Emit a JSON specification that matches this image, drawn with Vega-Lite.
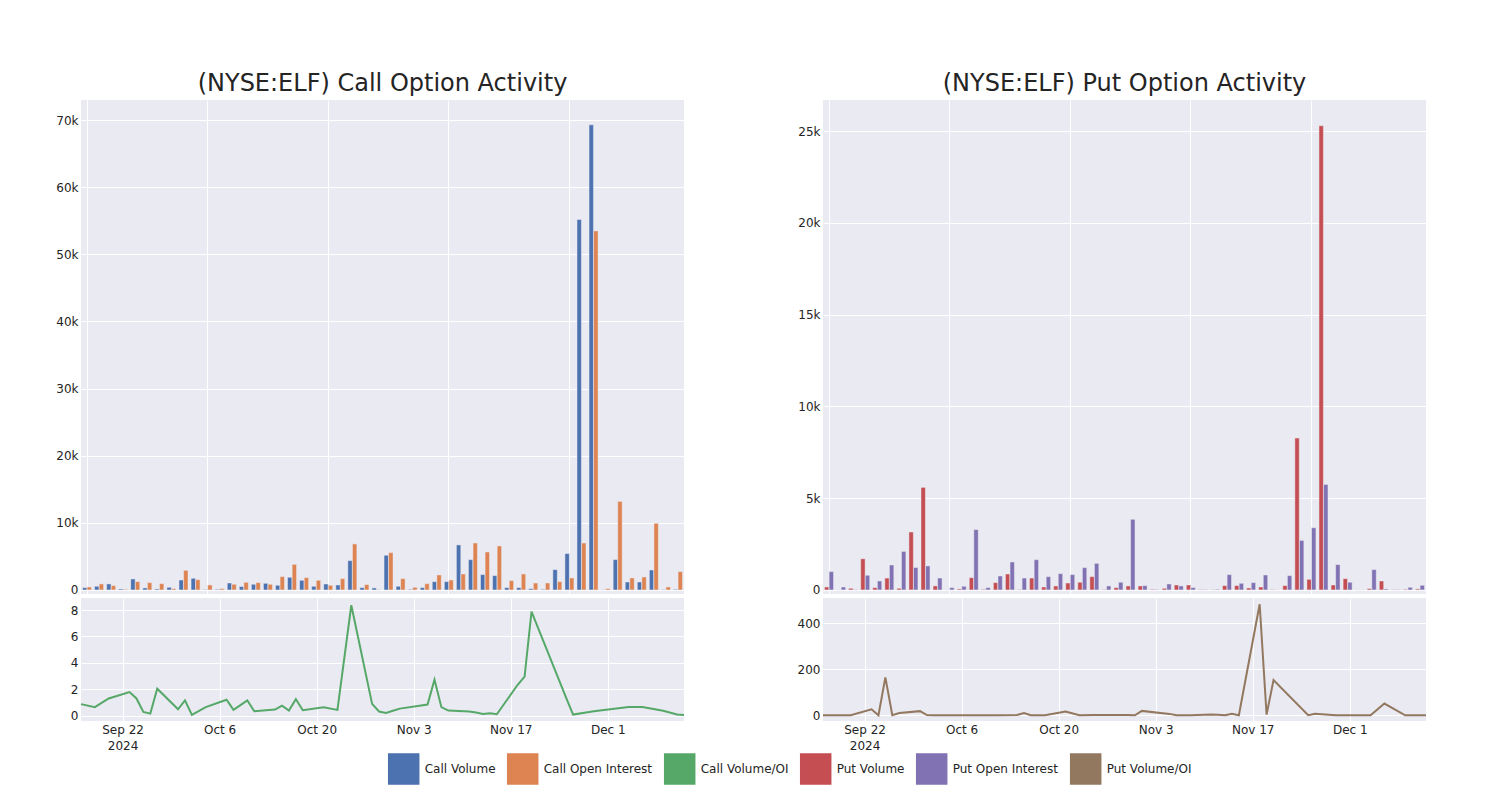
{
  "$schema": "https://vega.github.io/schema/vega-lite/v6.json",
  "background": "white",
  "padding": {"left": 55, "top": 72, "right": 10, "bottom": 10},
  "config": {
    "font": "DejaVu Sans",
    "view": {"fill": "#eaeaf2", "stroke": null},
    "axis": {"domain": false, "ticks": false, "grid": true, "gridColor": "#ffffff", "gridWidth": 1, "labelFont": "DejaVu Sans", "labelFontSize": 12, "labelColor": "#242424", "labelPadding": 3},
    "title": {"font": "DejaVu Sans", "fontSize": 24, "fontWeight": "normal", "color": "#242424", "anchor": "middle"}
  },
  "datasets": {
    "callBars": [
      {"date": "2024-09-16", "Call Volume": 343, "Call Open Interest": 447},
      {"date": "2024-09-18", "Call Volume": 550, "Call Open Interest": 900},
      {"date": "2024-09-20", "Call Volume": 900, "Call Open Interest": 650},
      {"date": "2024-09-23", "Call Volume": 150, "Call Open Interest": 100},
      {"date": "2024-09-24", "Call Volume": 1640, "Call Open Interest": 1240},
      {"date": "2024-09-25", "Call Volume": 300, "Call Open Interest": 1090},
      {"date": "2024-09-26", "Call Volume": 150, "Call Open Interest": 940},
      {"date": "2024-09-27", "Call Volume": 400, "Call Open Interest": 200},
      {"date": "2024-09-30", "Call Volume": 1490, "Call Open Interest": 2930},
      {"date": "2024-10-01", "Call Volume": 1740, "Call Open Interest": 1540},
      {"date": "2024-10-02", "Call Volume": 50, "Call Open Interest": 750},
      {"date": "2024-10-04", "Call Volume": 100, "Call Open Interest": 200},
      {"date": "2024-10-07", "Call Volume": 1040, "Call Open Interest": 850},
      {"date": "2024-10-08", "Call Volume": 500, "Call Open Interest": 1140},
      {"date": "2024-10-09", "Call Volume": 850, "Call Open Interest": 1090},
      {"date": "2024-10-10", "Call Volume": 990, "Call Open Interest": 850},
      {"date": "2024-10-11", "Call Volume": 700, "Call Open Interest": 1990},
      {"date": "2024-10-14", "Call Volume": 1890, "Call Open Interest": 3820},
      {"date": "2024-10-15", "Call Volume": 1440, "Call Open Interest": 1840},
      {"date": "2024-10-16", "Call Volume": 550, "Call Open Interest": 1440},
      {"date": "2024-10-17", "Call Volume": 890, "Call Open Interest": 700},
      {"date": "2024-10-18", "Call Volume": 750, "Call Open Interest": 1690},
      {"date": "2024-10-21", "Call Volume": 4370, "Call Open Interest": 6860},
      {"date": "2024-10-23", "Call Volume": 350, "Call Open Interest": 800},
      {"date": "2024-10-25", "Call Volume": 300, "Call Open Interest": 40},
      {"date": "2024-10-28", "Call Volume": 5170, "Call Open Interest": 5560},
      {"date": "2024-10-29", "Call Volume": 550, "Call Open Interest": 1690},
      {"date": "2024-10-30", "Call Volume": 100, "Call Open Interest": 400},
      {"date": "2024-10-31", "Call Volume": 350, "Call Open Interest": 940},
      {"date": "2024-11-01", "Call Volume": 1240, "Call Open Interest": 2240},
      {"date": "2024-11-05", "Call Volume": 1240, "Call Open Interest": 1490},
      {"date": "2024-11-06", "Call Volume": 6710, "Call Open Interest": 2380},
      {"date": "2024-11-07", "Call Volume": 4520, "Call Open Interest": 7000},
      {"date": "2024-11-08", "Call Volume": 2290, "Call Open Interest": 5660},
      {"date": "2024-11-11", "Call Volume": 2140, "Call Open Interest": 6560},
      {"date": "2024-11-12", "Call Volume": 350, "Call Open Interest": 1390},
      {"date": "2024-11-13", "Call Volume": 350, "Call Open Interest": 2380},
      {"date": "2024-11-14", "Call Volume": 200, "Call Open Interest": 1040},
      {"date": "2024-11-15", "Call Volume": 100, "Call Open Interest": 1040},
      {"date": "2024-11-18", "Call Volume": 3030, "Call Open Interest": 1240},
      {"date": "2024-11-19", "Call Volume": 5420, "Call Open Interest": 1790},
      {"date": "2024-11-20", "Call Volume": 55200, "Call Open Interest": 7000},
      {"date": "2024-11-25", "Call Volume": 69300, "Call Open Interest": 53500},
      {"date": "2024-11-26", "Call Volume": 20, "Call Open Interest": 200},
      {"date": "2024-11-29", "Call Volume": 4520, "Call Open Interest": 13200},
      {"date": "2024-12-04", "Call Volume": 1190, "Call Open Interest": 1790},
      {"date": "2024-12-06", "Call Volume": 1190, "Call Open Interest": 1940},
      {"date": "2024-12-09", "Call Volume": 2980, "Call Open Interest": 9930},
      {"date": "2024-12-11", "Call Volume": 50, "Call Open Interest": 450},
      {"date": "2024-12-12", "Call Volume": 100, "Call Open Interest": 2730}
    ],
    "callRatio": [
      {"date": "2024-09-16", "Call Volume/OI": 0.87},
      {"date": "2024-09-18", "Call Volume/OI": 0.64},
      {"date": "2024-09-20", "Call Volume/OI": 1.30},
      {"date": "2024-09-23", "Call Volume/OI": 1.78},
      {"date": "2024-09-24", "Call Volume/OI": 1.30},
      {"date": "2024-09-25", "Call Volume/OI": 0.28},
      {"date": "2024-09-26", "Call Volume/OI": 0.15},
      {"date": "2024-09-27", "Call Volume/OI": 2.04},
      {"date": "2024-09-30", "Call Volume/OI": 0.48},
      {"date": "2024-10-01", "Call Volume/OI": 1.15},
      {"date": "2024-10-02", "Call Volume/OI": 0.05},
      {"date": "2024-10-04", "Call Volume/OI": 0.64},
      {"date": "2024-10-07", "Call Volume/OI": 1.20},
      {"date": "2024-10-08", "Call Volume/OI": 0.43},
      {"date": "2024-10-09", "Call Volume/OI": 0.79},
      {"date": "2024-10-10", "Call Volume/OI": 1.15},
      {"date": "2024-10-11", "Call Volume/OI": 0.33},
      {"date": "2024-10-14", "Call Volume/OI": 0.46},
      {"date": "2024-10-15", "Call Volume/OI": 0.76},
      {"date": "2024-10-16", "Call Volume/OI": 0.38},
      {"date": "2024-10-17", "Call Volume/OI": 1.25},
      {"date": "2024-10-18", "Call Volume/OI": 0.41},
      {"date": "2024-10-21", "Call Volume/OI": 0.64},
      {"date": "2024-10-23", "Call Volume/OI": 0.43},
      {"date": "2024-10-25", "Call Volume/OI": 8.37},
      {"date": "2024-10-28", "Call Volume/OI": 0.89},
      {"date": "2024-10-29", "Call Volume/OI": 0.31},
      {"date": "2024-10-30", "Call Volume/OI": 0.20},
      {"date": "2024-10-31", "Call Volume/OI": 0.37},
      {"date": "2024-11-01", "Call Volume/OI": 0.53},
      {"date": "2024-11-05", "Call Volume/OI": 0.84},
      {"date": "2024-11-06", "Call Volume/OI": 2.72},
      {"date": "2024-11-07", "Call Volume/OI": 0.64},
      {"date": "2024-11-08", "Call Volume/OI": 0.38},
      {"date": "2024-11-11", "Call Volume/OI": 0.31},
      {"date": "2024-11-12", "Call Volume/OI": 0.23},
      {"date": "2024-11-13", "Call Volume/OI": 0.13},
      {"date": "2024-11-14", "Call Volume/OI": 0.18},
      {"date": "2024-11-15", "Call Volume/OI": 0.10},
      {"date": "2024-11-18", "Call Volume/OI": 2.34},
      {"date": "2024-11-19", "Call Volume/OI": 2.95},
      {"date": "2024-11-20", "Call Volume/OI": 7.89},
      {"date": "2024-11-25", "Call Volume/OI": 1.35},
      {"date": "2024-11-26", "Call Volume/OI": 0.08},
      {"date": "2024-11-29", "Call Volume/OI": 0.33},
      {"date": "2024-12-04", "Call Volume/OI": 0.66},
      {"date": "2024-12-06", "Call Volume/OI": 0.66},
      {"date": "2024-12-09", "Call Volume/OI": 0.36},
      {"date": "2024-12-11", "Call Volume/OI": 0.08},
      {"date": "2024-12-12", "Call Volume/OI": 0.05}
    ],
    "putBars": [
      {"date": "2024-09-16", "Put Volume": 163, "Put Open Interest": 1000},
      {"date": "2024-09-18", "Put Volume": 0, "Put Open Interest": 163},
      {"date": "2024-09-20", "Put Volume": 90, "Put Open Interest": 20},
      {"date": "2024-09-23", "Put Volume": 1700, "Put Open Interest": 800},
      {"date": "2024-09-24", "Put Volume": 127, "Put Open Interest": 490},
      {"date": "2024-09-25", "Put Volume": 650, "Put Open Interest": 1360},
      {"date": "2024-09-26", "Put Volume": 90, "Put Open Interest": 2100},
      {"date": "2024-09-27", "Put Volume": 3160, "Put Open Interest": 1220},
      {"date": "2024-09-30", "Put Volume": 5590, "Put Open Interest": 1310},
      {"date": "2024-10-01", "Put Volume": 220, "Put Open Interest": 650},
      {"date": "2024-10-02", "Put Volume": 0, "Put Open Interest": 127},
      {"date": "2024-10-04", "Put Volume": 55, "Put Open Interest": 200},
      {"date": "2024-10-07", "Put Volume": 670, "Put Open Interest": 3290},
      {"date": "2024-10-08", "Put Volume": 36, "Put Open Interest": 127},
      {"date": "2024-10-09", "Put Volume": 400, "Put Open Interest": 760},
      {"date": "2024-10-10", "Put Volume": 870, "Put Open Interest": 1525},
      {"date": "2024-10-11", "Put Volume": 20, "Put Open Interest": 650},
      {"date": "2024-10-14", "Put Volume": 650, "Put Open Interest": 1650},
      {"date": "2024-10-15", "Put Volume": 163, "Put Open Interest": 725},
      {"date": "2024-10-16", "Put Volume": 218, "Put Open Interest": 890},
      {"date": "2024-10-17", "Put Volume": 380, "Put Open Interest": 835},
      {"date": "2024-10-18", "Put Volume": 420, "Put Open Interest": 1215},
      {"date": "2024-10-21", "Put Volume": 725, "Put Open Interest": 1450},
      {"date": "2024-10-23", "Put Volume": 20, "Put Open Interest": 218},
      {"date": "2024-10-25", "Put Volume": 127, "Put Open Interest": 420},
      {"date": "2024-10-28", "Put Volume": 218, "Put Open Interest": 3850},
      {"date": "2024-10-29", "Put Volume": 218, "Put Open Interest": 236},
      {"date": "2024-10-30", "Put Volume": 36, "Put Open Interest": 20},
      {"date": "2024-10-31", "Put Volume": 90, "Put Open Interest": 327},
      {"date": "2024-11-01", "Put Volume": 272, "Put Open Interest": 218},
      {"date": "2024-11-05", "Put Volume": 272, "Put Open Interest": 127},
      {"date": "2024-11-06", "Put Volume": 20, "Put Open Interest": 20},
      {"date": "2024-11-07", "Put Volume": 10, "Put Open Interest": 36},
      {"date": "2024-11-08", "Put Volume": 236, "Put Open Interest": 835},
      {"date": "2024-11-11", "Put Volume": 236, "Put Open Interest": 363},
      {"date": "2024-11-12", "Put Volume": 109, "Put Open Interest": 400},
      {"date": "2024-11-13", "Put Volume": 163, "Put Open Interest": 817},
      {"date": "2024-11-14", "Put Volume": 20, "Put Open Interest": 0},
      {"date": "2024-11-15", "Put Volume": 236, "Put Open Interest": 780},
      {"date": "2024-11-18", "Put Volume": 8280, "Put Open Interest": 2700},
      {"date": "2024-11-19", "Put Volume": 580, "Put Open Interest": 3390},
      {"date": "2024-11-20", "Put Volume": 25300, "Put Open Interest": 5750},
      {"date": "2024-11-25", "Put Volume": 272, "Put Open Interest": 1380},
      {"date": "2024-11-26", "Put Volume": 617, "Put Open Interest": 420},
      {"date": "2024-11-29", "Put Volume": 0, "Put Open Interest": 0},
      {"date": "2024-12-04", "Put Volume": 73, "Put Open Interest": 1110},
      {"date": "2024-12-06", "Put Volume": 490, "Put Open Interest": 55},
      {"date": "2024-12-09", "Put Volume": 20, "Put Open Interest": 20},
      {"date": "2024-12-11", "Put Volume": 36, "Put Open Interest": 145},
      {"date": "2024-12-12", "Put Volume": 55, "Put Open Interest": 254}
    ],
    "putRatio": [
      {"date": "2024-09-16", "Put Volume/OI": 0},
      {"date": "2024-09-18", "Put Volume/OI": 0},
      {"date": "2024-09-20", "Put Volume/OI": 0},
      {"date": "2024-09-23", "Put Volume/OI": 26},
      {"date": "2024-09-24", "Put Volume/OI": 0},
      {"date": "2024-09-25", "Put Volume/OI": 165},
      {"date": "2024-09-26", "Put Volume/OI": 0},
      {"date": "2024-09-27", "Put Volume/OI": 10},
      {"date": "2024-09-30", "Put Volume/OI": 18},
      {"date": "2024-10-01", "Put Volume/OI": 1},
      {"date": "2024-10-02", "Put Volume/OI": 0},
      {"date": "2024-10-04", "Put Volume/OI": 0},
      {"date": "2024-10-07", "Put Volume/OI": 0},
      {"date": "2024-10-08", "Put Volume/OI": 0},
      {"date": "2024-10-09", "Put Volume/OI": 0},
      {"date": "2024-10-10", "Put Volume/OI": 0},
      {"date": "2024-10-11", "Put Volume/OI": 0},
      {"date": "2024-10-14", "Put Volume/OI": 1},
      {"date": "2024-10-15", "Put Volume/OI": 10},
      {"date": "2024-10-16", "Put Volume/OI": 0},
      {"date": "2024-10-17", "Put Volume/OI": 0},
      {"date": "2024-10-18", "Put Volume/OI": 0},
      {"date": "2024-10-21", "Put Volume/OI": 16},
      {"date": "2024-10-23", "Put Volume/OI": 0},
      {"date": "2024-10-25", "Put Volume/OI": 1},
      {"date": "2024-10-28", "Put Volume/OI": 1},
      {"date": "2024-10-29", "Put Volume/OI": 1},
      {"date": "2024-10-30", "Put Volume/OI": 1},
      {"date": "2024-10-31", "Put Volume/OI": 0},
      {"date": "2024-11-01", "Put Volume/OI": 19},
      {"date": "2024-11-05", "Put Volume/OI": 6},
      {"date": "2024-11-06", "Put Volume/OI": 0},
      {"date": "2024-11-07", "Put Volume/OI": 0},
      {"date": "2024-11-08", "Put Volume/OI": 0},
      {"date": "2024-11-11", "Put Volume/OI": 3},
      {"date": "2024-11-12", "Put Volume/OI": 2},
      {"date": "2024-11-13", "Put Volume/OI": 0},
      {"date": "2024-11-14", "Put Volume/OI": 6},
      {"date": "2024-11-15", "Put Volume/OI": 0},
      {"date": "2024-11-18", "Put Volume/OI": 484},
      {"date": "2024-11-19", "Put Volume/OI": 3},
      {"date": "2024-11-20", "Put Volume/OI": 153},
      {"date": "2024-11-25", "Put Volume/OI": 0},
      {"date": "2024-11-26", "Put Volume/OI": 7},
      {"date": "2024-11-29", "Put Volume/OI": 0},
      {"date": "2024-12-04", "Put Volume/OI": 0},
      {"date": "2024-12-06", "Put Volume/OI": 51},
      {"date": "2024-12-09", "Put Volume/OI": 0},
      {"date": "2024-12-11", "Put Volume/OI": 0},
      {"date": "2024-12-12", "Put Volume/OI": 0}
    ]
  },
  "resolve": {"scale": {"color": "shared"}, "legend": {"color": "shared"}},
  "spacing": 109,
  "hconcat": [
    {
      "spacing": 2,
      "vconcat": [
        {
          "width": 603,
          "height": 494,
          "title": {"text": "(NYSE:ELF) Call Option Activity", "offset": 9, "baseline": "alphabetic", "dy": 24},
          "data": {"name": "callBars"},
          "encoding": {
            "x": {"field": "date", "type": "ordinal", "sort": null, "scale": {"paddingInner": 0.25, "paddingOuter": 0.125},
                  "axis": {"title": null, "labels": false, "bandPosition": 0.5, "values": ["2024-09-16", "2024-10-02", "2024-10-17", "2024-11-05", "2024-11-19"]}}
          },
          "layer": [
            {
              "mark": {"type": "bar", "width": 4.4, "xOffset": -2.3, "stroke": "#eaeaf2", "strokeWidth": 0.5},
              "encoding": {
                "y": {"field": "Call Volume", "type": "quantitative", "scale": {"domain": [-600, 73000], "nice": false, "zero": false},
                      "axis": {"title": null, "values": [0, 10000, 20000, 30000, 40000, 50000, 60000, 70000], "labelExpr": "datum.value == 0 ? '0' : format(datum.value, '~s')"}},
                "y2": {"datum": 0},
                "color": {"datum": "Call Volume", "type": "nominal",
                          "scale": {"domain": ["Call Volume", "Call Open Interest", "Call Volume/OI", "Put Volume", "Put Open Interest", "Put Volume/OI"],
                                    "range": ["#4c72b0", "#dd8452", "#55a868", "#c44e52", "#8172b3", "#937860"]},
                          "legend": {"orient": "none", "legendX": 306.7, "legendY": 653, "direction": "horizontal", "title": null,
                                     "symbolSize": 900, "labelOffset": 5, "columnPadding": 9, "labelFont": "DejaVu Sans", "labelFontSize": 12, "labelColor": "#242424",
                                     "labelExpr": "datum.label == 'Call Volume/OI' ? 'Call Volume/OI\u00a0\u00a0\u00a0\u00a0\u00a0' : datum.label",
                                     "encode": {"symbols": {"update": {
                                       "shape": {"signal": "indexof(datum.value, '/OI') >= 0 ? 'stroke' : 'square'"},
                                       "size": {"signal": "indexof(datum.value, '/OI') >= 0 ? 900 : 100"},
                                       "fill": {"signal": "indexof(datum.value, '/OI') >= 0 ? 'transparent' : (datum.value == 'Call Volume' ? '#4c72b0' : datum.value == 'Call Open Interest' ? '#dd8452' : datum.value == 'Put Volume' ? '#c44e52' : '#8172b3')"},
                                       "stroke": {"signal": "datum.value == 'Call Volume' ? '#4c72b0' : datum.value == 'Call Open Interest' ? '#dd8452' : datum.value == 'Call Volume/OI' ? '#55a868' : datum.value == 'Put Volume' ? '#c44e52' : datum.value == 'Put Open Interest' ? '#8172b3' : '#937860'"},
                                       "strokeWidth": {"signal": "indexof(datum.value, '/OI') >= 0 ? 2 : 0"},
                                       "opacity": {"value": 1}
                                     }}}}}
              }
            },
            {
              "mark": {"type": "bar", "width": 4.4, "xOffset": 2.3, "stroke": "#eaeaf2", "strokeWidth": 0.5},
              "encoding": {
                "y": {"field": "Call Open Interest", "type": "quantitative", "scale": {"domain": [-600, 73000], "nice": false, "zero": false}},
                "y2": {"datum": 0},
                "color": {"datum": "Call Open Interest", "type": "nominal"}
              }
            }
          ]
        },
        {
          "width": 603,
          "height": 123,
          "data": {"name": "callRatio"},
          "mark": {"type": "line", "strokeWidth": 2},
          "encoding": {
            "x": {"field": "date", "type": "temporal",
                  "scale": {"type": "utc", "nice": false, "domain": [{"year": 2024, "month": 9, "date": 16, "utc": true}, {"year": 2024, "month": 12, "date": 12, "utc": true}]},
                  "axis": {"title": null, "labelPadding": 3, "labelLineHeight": 16,
                           "values": [{"year": 2024, "month": 9, "date": 22, "utc": true}, {"year": 2024, "month": 10, "date": 6, "utc": true}, {"year": 2024, "month": 10, "date": 20, "utc": true}, {"year": 2024, "month": 11, "date": 3, "utc": true}, {"year": 2024, "month": 11, "date": 17, "utc": true}, {"year": 2024, "month": 12, "date": 1, "utc": true}],
                           "labelExpr": "utcmonth(datum.value) == 8 ? [utcFormat(datum.value, '%b %-d'), '2024'] : utcFormat(datum.value, '%b %-d')"}},
            "y": {"field": "Call Volume/OI", "type": "quantitative", "scale": {"domain": [-0.41, 8.92], "nice": false, "zero": false},
                  "axis": {"title": null, "values": [0, 2, 4, 6, 8]}},
            "color": {"datum": "Call Volume/OI", "type": "nominal"}
          }
        }
      ]
    },
    {
      "spacing": 2,
      "vconcat": [
        {
          "width": 603,
          "height": 494,
          "title": {"text": "(NYSE:ELF) Put Option Activity", "offset": 9, "baseline": "alphabetic", "dy": 24},
          "data": {"name": "putBars"},
          "encoding": {
            "x": {"field": "date", "type": "ordinal", "sort": null, "scale": {"paddingInner": 0.25, "paddingOuter": 0.125},
                  "axis": {"title": null, "labels": false, "bandPosition": 0.5, "values": ["2024-09-16", "2024-10-02", "2024-10-17", "2024-11-05", "2024-11-19"]}}
          },
          "layer": [
            {
              "mark": {"type": "bar", "width": 4.4, "xOffset": -2.3, "stroke": "#eaeaf2", "strokeWidth": 0.5},
              "encoding": {
                "y": {"field": "Put Volume", "type": "quantitative", "scale": {"domain": [-220, 26700], "nice": false, "zero": false},
                      "axis": {"title": null, "values": [0, 5000, 10000, 15000, 20000, 25000], "labelExpr": "datum.value == 0 ? '0' : format(datum.value, '~s')"}},
                "y2": {"datum": 0},
                "color": {"datum": "Put Volume", "type": "nominal"}
              }
            },
            {
              "mark": {"type": "bar", "width": 4.4, "xOffset": 2.3, "stroke": "#eaeaf2", "strokeWidth": 0.5},
              "encoding": {
                "y": {"field": "Put Open Interest", "type": "quantitative", "scale": {"domain": [-220, 26700], "nice": false, "zero": false}},
                "y2": {"datum": 0},
                "color": {"datum": "Put Open Interest", "type": "nominal"}
              }
            }
          ]
        },
        {
          "width": 603,
          "height": 123,
          "data": {"name": "putRatio"},
          "mark": {"type": "line", "strokeWidth": 2},
          "encoding": {
            "x": {"field": "date", "type": "temporal",
                  "scale": {"type": "utc", "nice": false, "domain": [{"year": 2024, "month": 9, "date": 16, "utc": true}, {"year": 2024, "month": 12, "date": 12, "utc": true}]},
                  "axis": {"title": null, "labelPadding": 3, "labelLineHeight": 16,
                           "values": [{"year": 2024, "month": 9, "date": 22, "utc": true}, {"year": 2024, "month": 10, "date": 6, "utc": true}, {"year": 2024, "month": 10, "date": 20, "utc": true}, {"year": 2024, "month": 11, "date": 3, "utc": true}, {"year": 2024, "month": 11, "date": 17, "utc": true}, {"year": 2024, "month": 12, "date": 1, "utc": true}],
                           "labelExpr": "utcmonth(datum.value) == 8 ? [utcFormat(datum.value, '%b %-d'), '2024'] : utcFormat(datum.value, '%b %-d')"}},
            "y": {"field": "Put Volume/OI", "type": "quantitative", "scale": {"domain": [-25, 511], "nice": false, "zero": false},
                  "axis": {"title": null, "values": [0, 200, 400]}},
            "color": {"datum": "Put Volume/OI", "type": "nominal"}
          }
        }
      ]
    }
  ]
}
